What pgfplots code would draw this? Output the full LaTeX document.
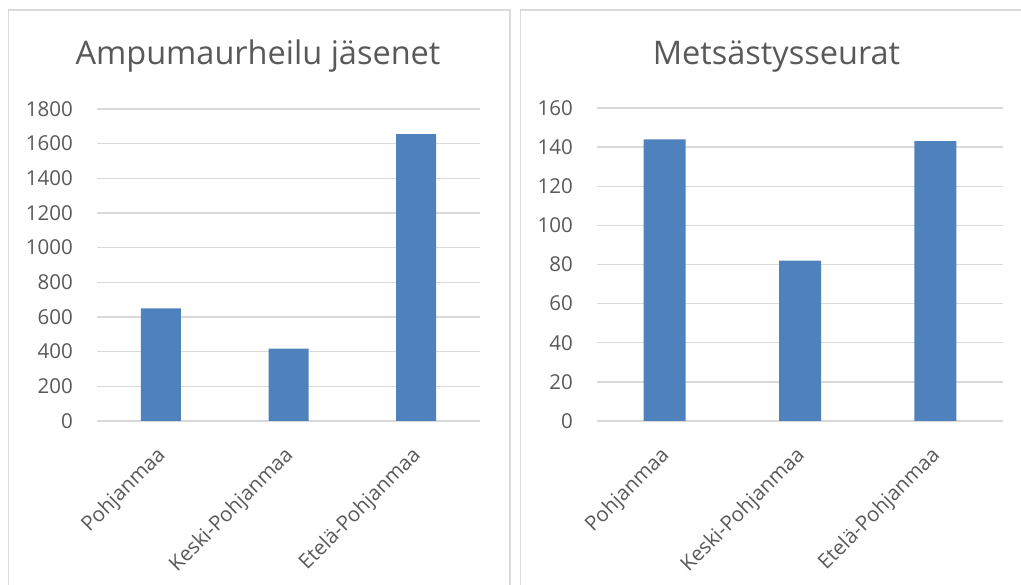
\documentclass[border=0pt]{standalone}
\usepackage{fontspec}
\setmainfont{Open Sans}
\usepackage{pgfplots}
\pgfplotsset{compat=1.18}
\definecolor{barblue}{HTML}{4F81BD}
\definecolor{txtgray}{HTML}{595959}
\definecolor{gridgray}{HTML}{D9D9D9}
\definecolor{bordergray}{HTML}{D9D9D9}
\pgfplotsset{mystyle/.style={
  scale only axis, ybar, ymin=0, xmin=-0.5, xmax=2.5,
  xtick={0,1,2}, xticklabels={Pohjanmaa,Keski-Pohjanmaa,Etelä-Pohjanmaa},
  axis line style={draw=none},
  ymajorgrids, grid style={gridgray, line width=1.3bp},
  major tick length=0pt,
  tick label style={font=\fontsize{20.5bp}{25bp}\selectfont, text=txtgray},
  yticklabel style={inner sep=0pt, xshift=-24bp, anchor=east},
  xticklabel style={rotate=45, anchor=north east, inner sep=0pt, xshift=-21bp, yshift=-13bp},
  /pgf/number format/assume math mode=true,
  /pgf/number format/1000 sep={},
  clip=false,
}}
\begin{document}
\begin{tikzpicture}[x=1bp,y=1bp]
\useasboundingbox (0,0) rectangle (1021,585);
\draw[bordergray, line width=1.3bp] (8.5,-5) -- (8.5,575) -- (510,575) -- (510,-5);
\draw[bordergray, line width=1.3bp] (520.5,-5) -- (520.5,575) -- (1030,575);
\node[anchor=base, text=txtgray, font=\fontsize{32.5bp}{40bp}\selectfont] at (258,520) {Ampumaurheilu jäsenet};
\node[anchor=base, text=txtgray, font=\fontsize{32.5bp}{40bp}\selectfont] at (776.5,520) {Metsästysseurat};
\begin{axis}[mystyle, at={(97bp,164bp)}, anchor=south west,
  width=383bp, height=312bp, ymax=1800, ytick={0,200,...,1800}, bar width=40bp]
\addplot[fill=barblue, draw=none] coordinates {(0,650) (1,418) (2,1655)};
\end{axis}
\begin{axis}[mystyle, at={(597bp,164bp)}, anchor=south west,
  width=406bp, height=313bp, ymax=160, ytick={0,20,...,160}, bar width=42bp]
\addplot[fill=barblue, draw=none] coordinates {(0,144) (1,82) (2,143)};
\end{axis}
\end{tikzpicture}
\end{document}
